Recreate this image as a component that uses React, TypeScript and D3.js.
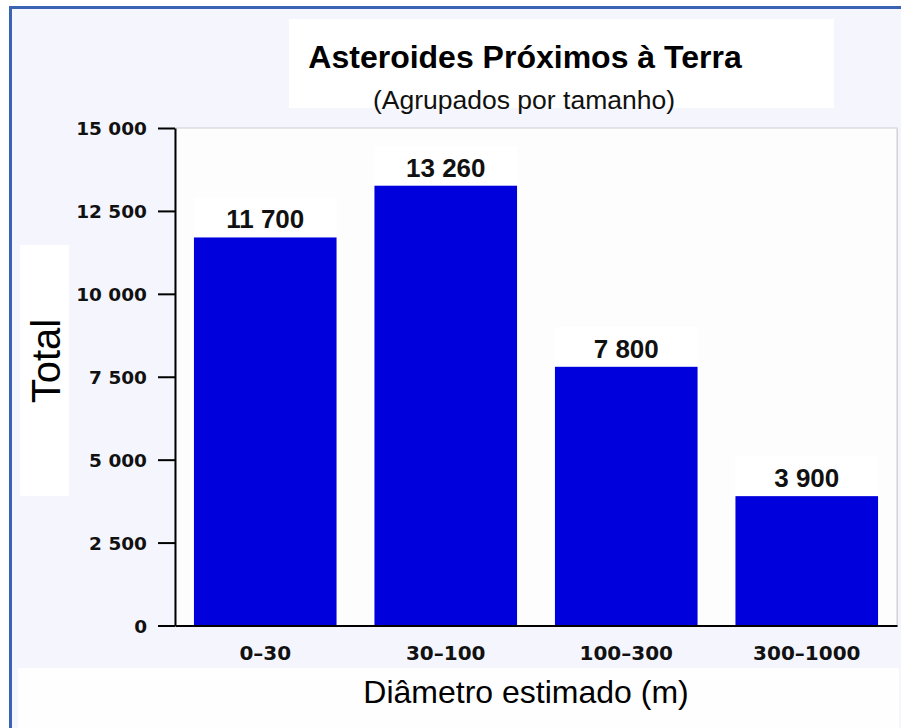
import React, { useEffect, useRef } from "react";
import * as d3 from "d3";

// size classes (estimated diameter, m) and counts
const categories = ["0–30", "30–100", "100–300", "300–1000"];
const totals = [11700, 13260, 7800, 3900];
const yTicks = [0, 2500, 5000, 7500, 10000, 12500, 15000];

const title = "Asteroides Próximos à Terra";
const subtitle = "(Agrupados por tamanho)";
const xTitle = "Diâmetro estimado (m)";
const yTitle = "Total";

const App = () => {
  const ref = useRef<SVGSVGElement | null>(null);

  useEffect(() => {
    const width = 901,
      height = 728;
    const plot = { left: 175, right: 897, top: 128, bottom: 625.5 };
    const arial = "'Liberation Sans', Arial, sans-serif";
    const dejavu = "'DejaVu Sans', Verdana, sans-serif";

    const svg = d3.select(ref.current);
    svg.selectAll("*").remove();
    svg.attr("width", width).attr("height", height);

    const data = categories.map((c, i) => ({ cat: c, total: totals[i] }));

    // page background + blue frame
    svg.append("rect").attr("width", width).attr("height", height).attr("fill", "#ffffff");
    svg
      .append("rect")
      .attr("x", 12)
      .attr("y", 9)
      .attr("width", width - 12)
      .attr("height", height - 9)
      .attr("fill", "#f5f6fd");
    svg.append("rect").attr("x", 9).attr("y", 6).attr("width", width - 9).attr("height", 3).attr("fill", "#3b63b3");
    svg.append("rect").attr("x", 9).attr("y", 6).attr("width", 3).attr("height", height - 6).attr("fill", "#3b63b3");

    // white boxes behind title, axis titles
    svg.append("rect").attr("x", 289).attr("y", 19).attr("width", 545).attr("height", 89).attr("fill", "#ffffff");
    svg.append("rect").attr("x", 20).attr("y", 245).attr("width", 49).attr("height", 251).attr("fill", "#ffffff");
    svg.append("rect").attr("x", 18).attr("y", 668).attr("width", 881).attr("height", 60).attr("fill", "#fefeff");

    // plot area with a soft border / shadow
    svg
      .append("rect")
      .attr("x", plot.left + 1)
      .attr("y", plot.top + 1)
      .attr("width", plot.right - plot.left)
      .attr("height", plot.bottom - plot.top)
      .attr("fill", "#d8d8dc");
    svg
      .append("rect")
      .attr("x", plot.left)
      .attr("y", plot.top)
      .attr("width", plot.right - plot.left)
      .attr("height", plot.bottom - plot.top)
      .attr("fill", "#fdfdfd")
      .attr("stroke", "#cfcfd4")
      .attr("stroke-width", 1);

    const x = d3
      .scaleBand()
      .domain(categories)
      .range([plot.left, plot.right])
      .paddingInner(0.21)
      .paddingOuter(0.105);

    const y = d3.scaleLinear().domain([0, 15000]).range([plot.bottom, plot.top]);

    const fmt = d3.formatLocale({ decimal: ",", thousands: " ", grouping: [3], currency: ["", ""] }).format(",");

    // label boxes above bars (nearly invisible on the plot fill)
    svg
      .selectAll(".label-box")
      .data(data)
      .enter()
      .append("rect")
      .attr("class", "label-box")
      .attr("x", (d) => x(d.cat)!)
      .attr("y", (d) => y(d.total) - 40)
      .attr("width", x.bandwidth())
      .attr("height", 40)
      .attr("fill", "#ffffff");

    // bars
    svg
      .selectAll(".bar")
      .data(data)
      .enter()
      .append("rect")
      .attr("class", "bar")
      .attr("x", (d) => x(d.cat)!)
      .attr("y", (d) => y(d.total))
      .attr("width", x.bandwidth())
      .attr("height", (d) => y(0) - y(d.total))
      .attr("fill", "#0000dc");

    // value labels
    svg
      .selectAll(".value")
      .data(data)
      .enter()
      .append("text")
      .attr("class", "value")
      .attr("x", (d) => x(d.cat)! + x.bandwidth() / 2)
      .attr("y", (d) => y(d.total) - 9)
      .attr("text-anchor", "middle")
      .style("font-family", arial)
      .style("font-weight", "bold")
      .style("font-size", "26px")
      .attr("fill", "#111")
      .text((d) => fmt(d.total));

    // y axis
    const yAxis = svg
      .append("g")
      .attr("transform", `translate(${plot.left},0)`)
      .call(
        d3
          .axisLeft(y)
          .tickValues(yTicks)
          .tickSize(17)
          .tickSizeOuter(0)
          .tickPadding(11)
          .tickFormat((d) => fmt(d as number))
      );
    yAxis.select(".domain").attr("stroke", "#000").attr("stroke-width", 2);
    yAxis.selectAll(".tick line").attr("stroke", "#000").attr("stroke-width", 2);
    yAxis
      .selectAll(".tick text")
      .attr("dy", "0.36em")
      .style("font-family", dejavu)
      .style("font-weight", "bold")
      .style("font-size", "18.5px")
      .attr("fill", "#111");

    // x axis
    const xAxis = svg
      .append("g")
      .attr("transform", `translate(0,${plot.bottom})`)
      .call(d3.axisBottom(x).tickSize(0).tickSizeOuter(0).tickPadding(20));
    xAxis.select(".domain").attr("stroke", "#000").attr("stroke-width", 2);
    xAxis
      .selectAll(".tick text")
      .style("font-family", dejavu)
      .style("font-weight", "bold")
      .style("font-size", "20px")
      .attr("fill", "#111");

    // titles
    svg
      .append("text")
      .attr("x", 525)
      .attr("y", 68)
      .attr("text-anchor", "middle")
      .style("font-family", arial)
      .style("font-weight", "bold")
      .style("font-size", "32px")
      .attr("fill", "#000")
      .text(title);

    svg
      .append("text")
      .attr("x", 524)
      .attr("y", 109)
      .attr("text-anchor", "middle")
      .style("font-family", arial)
      .style("font-size", "26.5px")
      .attr("fill", "#111")
      .text(subtitle);

    svg
      .append("text")
      .attr("x", 526)
      .attr("y", 703)
      .attr("text-anchor", "middle")
      .style("font-family", arial)
      .style("font-size", "32px")
      .attr("fill", "#000")
      .text(xTitle);

    svg
      .append("text")
      .attr("transform", "translate(60,361) rotate(-90)")
      .attr("text-anchor", "middle")
      .style("font-family", arial)
      .style("font-size", "40px")
      .attr("fill", "#000")
      .text(yTitle);
  }, []);

  return <svg ref={ref} style={{ position: "absolute", left: 0, top: 0, display: "block" }}></svg>;
};

export default App;
